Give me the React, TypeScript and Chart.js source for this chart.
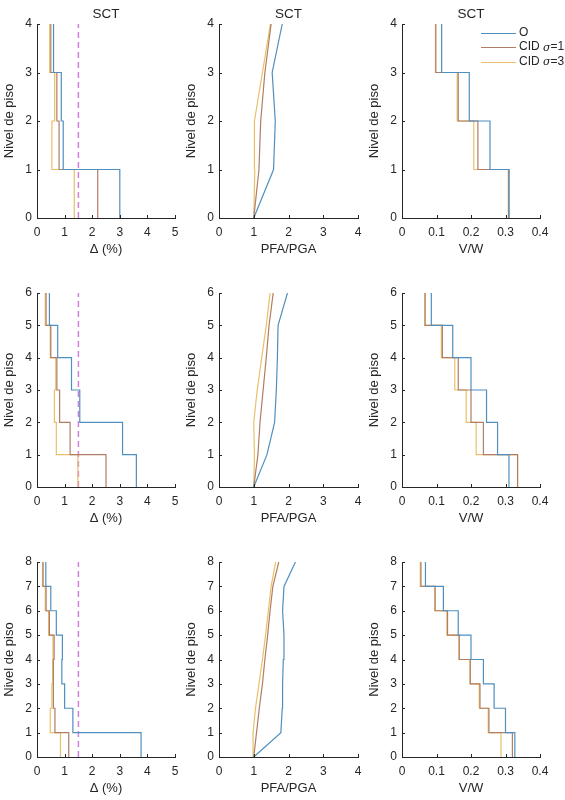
import React, { useEffect, useRef } from 'react';
import { Chart, registerables } from 'chart.js';

Chart.register(...registerables);

// ---------- data ----------
const seriesLabels = ['O', 'CID σ=1', 'CID σ=3'];
const seriesColors = ['#4f90bf', '#b07e66', '#e9c067'];
const limitColor = '#d183da';
const driftLimit = 1.5;
const panelTitle = 'SCT';
const xTitles = ['Δ (%)', 'PFA/PGA', 'V/W'];
const yTitle = 'Nivel de piso';
const xMax = [5, 4, 0.4];
const xStep = [1, 1, 0.1];
const storyCounts = [4, 6, 8];

// 4 stories: drift per story (story 1..4)
const drift4O = [3.0, 0.95, 0.88, 0.6];
const drift4C1 = [2.2, 0.8, 0.72, 0.5];
const drift4C3 = [1.35, 0.54, 0.64, 0.46];
// PFA/PGA per floor (0..4)
const pfa4O = [1.0, 1.57, 1.62, 1.53, 1.82];
const pfa4C1 = [1.0, 1.15, 1.2, 1.32, 1.5];
const pfa4C3 = [1.0, 1.03, 1.02, 1.25, 1.48];
// V/W per story
const shear4O = [0.31, 0.255, 0.195, 0.115];
const shear4C1 = [0.31, 0.22, 0.163, 0.098];
const shear4C3 = [0.308, 0.208, 0.16, 0.097];

// 6 stories
const drift6O = [3.6, 3.1, 1.55, 1.25, 0.75, 0.45];
const drift6C1 = [2.5, 1.2, 0.82, 0.72, 0.5, 0.33];
const drift6C3 = [1.48, 0.7, 0.63, 0.68, 0.48, 0.3];
const pfa6O = [1.0, 1.38, 1.6, 1.65, 1.68, 1.7, 1.97];
const pfa6C1 = [1.0, 1.12, 1.18, 1.27, 1.36, 1.44, 1.56];
const pfa6C3 = [1.0, 1.02, 1.0, 1.1, 1.23, 1.36, 1.47];
const shear6O = [0.31, 0.277, 0.245, 0.2, 0.147, 0.085];
const shear6C1 = [0.335, 0.236, 0.2, 0.163, 0.117, 0.067];
const shear6C3 = [0.335, 0.215, 0.186, 0.153, 0.114, 0.066];

// 8 stories
const drift8O = [3.77, 1.3, 1.0, 0.9, 0.92, 0.7, 0.5, 0.32];
const drift8C1 = [1.15, 0.65, 0.58, 0.6, 0.62, 0.45, 0.33, 0.22];
const drift8C3 = [0.85, 0.48, 0.54, 0.57, 0.58, 0.42, 0.3, 0.2];
const pfa8O = [1.0, 1.78, 1.82, 1.83, 1.85, 1.87, 1.83, 1.87, 2.2];
const pfa8C1 = [1.0, 1.08, 1.16, 1.25, 1.32, 1.4, 1.47, 1.55, 1.72];
const pfa8C3 = [1.0, 0.98, 1.05, 1.15, 1.25, 1.34, 1.42, 1.5, 1.63];
const shear8O = [0.327, 0.3, 0.267, 0.236, 0.2, 0.163, 0.12, 0.068];
const shear8C1 = [0.32, 0.252, 0.226, 0.198, 0.166, 0.132, 0.096, 0.055];
const shear8C3 = [0.287, 0.25, 0.224, 0.197, 0.165, 0.13, 0.095, 0.053];

const driftRows = [
  [drift4O, drift4C1, drift4C3],
  [drift6O, drift6C1, drift6C3],
  [drift8O, drift8C1, drift8C3],
];
const pfaRows = [
  [pfa4O, pfa4C1, pfa4C3],
  [pfa6O, pfa6C1, pfa6C3],
  [pfa8O, pfa8C1, pfa8C3],
];
const shearRows = [
  [shear4O, shear4C1, shear4C3],
  [shear6O, shear6C1, shear6C3],
  [shear8O, shear8C1, shear8C3],
];

// ---------- layout ----------
const plotLeft = [37, 219, 402];
const plotWidth = [138, 139, 138];
const plotTop = [24, 293, 562];
const plotHeight = [194, 194, 195];
const axisW = 37;
const axisH = 40;
const padTop = 24;
const padRight = [12, 12, 25];
const FONT = "'Liberation Sans', Arial, sans-serif";
const TXT = '#262626';
const TICK_SIZE = 12;
const LABEL_SIZE = 13;
const TITLE_SIZE = 13.5;

const stepPoints = (vals: number[]) =>
  vals.flatMap((v, i) => [
    { x: v, y: i },
    { x: v, y: i + 1 },
  ]);
const linePoints = (vals: number[]) => vals.map((v, i) => ({ x: v, y: i }));

const inwardTicks = {
  id: 'inwardTicks',
  afterDatasetsDraw(chart: any) {
    const ctx = chart.ctx;
    const xs = chart.scales.x;
    const ys = chart.scales.y;
    const area = chart.chartArea;
    ctx.save();
    ctx.strokeStyle = TXT;
    ctx.lineWidth = 1;
    ctx.beginPath();
    xs.ticks.forEach((t: any) => {
      const p = Math.round(xs.getPixelForValue(t.value)) + 0.5;
      ctx.moveTo(p, area.bottom);
      ctx.lineTo(p, area.bottom - 3);
    });
    ys.ticks.forEach((t: any) => {
      const p = Math.round(ys.getPixelForValue(t.value)) + 0.5;
      ctx.moveTo(area.left, p);
      ctx.lineTo(area.left + 3, p);
    });
    ctx.stroke();
    ctx.restore();
  },
};

const customLegend = {
  id: 'customLegend',
  afterDraw(chart: any) {
    const ctx = chart.ctx;
    const area = chart.chartArea;
    const x0 = area.right - 59;
    const lineLen = 35;
    const y0 = area.top + 8.5;
    const dy = 14.5;
    ctx.save();
    ctx.textBaseline = 'middle';
    ctx.fillStyle = TXT;
    seriesLabels.forEach((label, i) => {
      const y = y0 + i * dy;
      ctx.strokeStyle = seriesColors[i];
      ctx.lineWidth = 1.2;
      ctx.beginPath();
      ctx.moveTo(x0, Math.round(y) + 0.5);
      ctx.lineTo(x0 + lineLen, Math.round(y) + 0.5);
      ctx.stroke();
      let tx = x0 + lineLen + 3;
      const parts = label.split('σ');
      parts.forEach((part, j) => {
        ctx.font = `12px ${FONT}`;
        ctx.fillText(part, tx, y);
        tx += ctx.measureText(part).width;
        if (j < parts.length - 1) {
          ctx.font = `italic 11px 'DejaVu Serif', serif`;
          ctx.fillText('σ', tx, y + 1);
          tx += ctx.measureText('σ').width;
        }
      });
    });
    ctx.restore();
  },
};

function buildConfig(row: number, col: number): any {
  const n = storyCounts[row];
  let datasets: any[] = [];
  if (col === 0) {
    datasets = driftRows[row].map((vals, i) => ({
      label: seriesLabels[i],
      data: stepPoints(vals),
      borderColor: seriesColors[i],
    }));
    datasets.push({
      label: 'limit',
      data: [
        { x: driftLimit, y: 0 },
        { x: driftLimit, y: n },
      ],
      borderColor: limitColor,
      borderWidth: 1.5,
      borderDash: [6, 4],
    });
  } else if (col === 1) {
    datasets = pfaRows[row].map((vals, i) => ({
      label: seriesLabels[i],
      data: linePoints(vals),
      borderColor: seriesColors[i],
    }));
  } else {
    datasets = shearRows[row].map((vals, i) => ({
      label: seriesLabels[i],
      data: stepPoints(vals),
      borderColor: seriesColors[i],
    }));
  }
  datasets.forEach((d) => {
    d.showLine = true;
    d.pointRadius = 0;
    d.fill = false;
    d.tension = 0;
    if (d.borderWidth === undefined) d.borderWidth = 1.2;
  });

  const titleH = TITLE_SIZE * 1.2 + 1.2;
  const plugins: any[] = [inwardTicks];
  if (row === 0 && col === 2) plugins.push(customLegend);

  return {
    type: 'scatter',
    data: { datasets },
    plugins,
    options: {
      animation: false,
      responsive: false,
      events: [],
      layout: {
        padding: {
          left: 0,
          bottom: 0,
          right: padRight[col],
          top: row === 0 ? padTop - titleH : padTop,
        },
      },
      plugins: {
        legend: { display: false },
        tooltip: { enabled: false },
        title: {
          display: row === 0,
          text: panelTitle,
          fullSize: false,
          color: TXT,
          font: { family: FONT, size: TITLE_SIZE, weight: 'normal' },
          padding: { top: 0, bottom: 1.2 },
        },
      },
      scales: {
        x: {
          type: 'linear',
          min: 0,
          max: xMax[col],
          ticks: {
            stepSize: xStep[col],
            padding: 7,
            color: TXT,
            font: { family: FONT, size: TICK_SIZE },
            maxRotation: 0,
          },
          grid: { display: false, drawTicks: false },
          border: { display: true, color: TXT, width: 1 },
          title: {
            display: true,
            text: xTitles[col],
            color: TXT,
            font: { family: FONT, size: LABEL_SIZE },
            padding: { top: 0, bottom: 0.5 },
          },
          afterFit: (s: any) => {
            s.height = axisH;
          },
        },
        y: {
          type: 'linear',
          min: 0,
          max: n,
          ticks: {
            stepSize: 1,
            padding: 5,
            color: TXT,
            font: { family: FONT, size: TICK_SIZE },
          },
          grid: { display: false, drawTicks: false },
          border: { display: true, color: TXT, width: 1 },
          title: {
            display: true,
            text: yTitle,
            color: TXT,
            font: { family: FONT, size: LABEL_SIZE },
            padding: { top: 2, bottom: 0 },
          },
          afterFit: (s: any) => {
            s.width = axisW;
          },
        },
      },
    },
  };
}

const panels: { row: number; col: number }[] = [];
for (let r = 0; r < 3; r++) for (let c = 0; c < 3; c++) panels.push({ row: r, col: c });

export default function App() {
  const refs = useRef<(HTMLCanvasElement | null)[]>([]);

  useEffect(() => {
    const charts: Chart[] = [];
    panels.forEach((p, i) => {
      const cv = refs.current[i];
      if (!cv) return;
      charts.push(new Chart(cv, buildConfig(p.row, p.col)));
    });
    return () => charts.forEach((c) => c.destroy());
  }, []);

  return (
    <div
      style={{
        position: 'absolute',
        left: 0,
        top: 0,
        width: 565,
        height: 800,
        background: '#ffffff',
        overflow: 'hidden',
      }}
    >
      {panels.map((p, i) => {
        const left = plotLeft[p.col] - axisW;
        const top = plotTop[p.row] - padTop;
        const w = axisW + plotWidth[p.col] + padRight[p.col];
        const h = padTop + plotHeight[p.row] + axisH;
        return (
          <canvas
            key={i}
            ref={(el) => {
              refs.current[i] = el;
            }}
            width={w}
            height={h}
            style={{ position: 'absolute', left, top, width: w, height: h }}
          />
        );
      })}
    </div>
  );
}
